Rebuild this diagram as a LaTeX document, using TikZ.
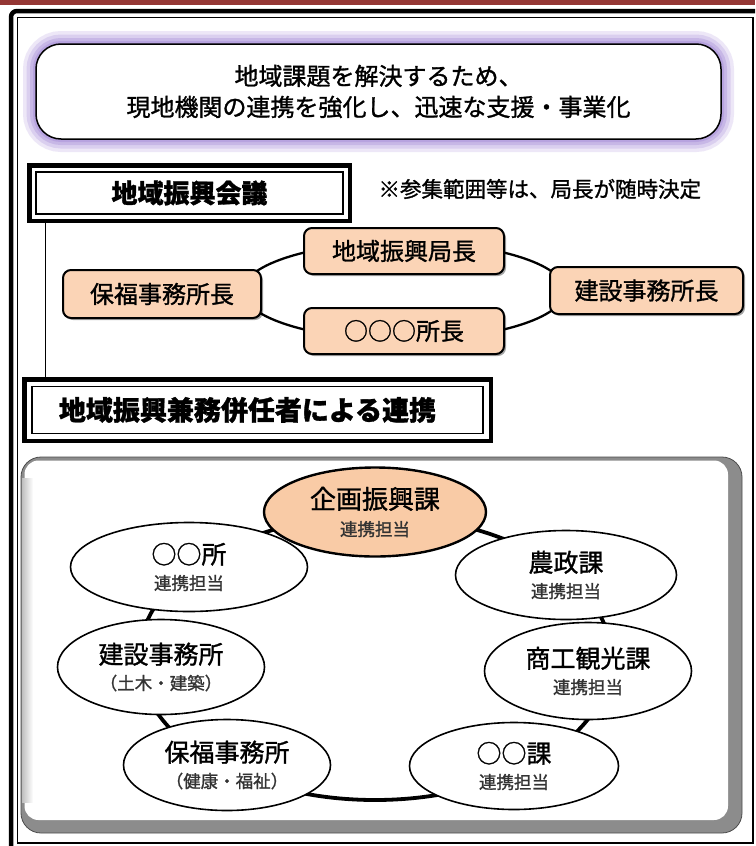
\documentclass[tikz,border=0pt]{standalone}
\usepackage{fontspec}
\setmainfont{Noto Sans CJK JP}[FakeBold=1.2]
\usetikzlibrary{shapes.geometric,shadows}
\definecolor{barred}{HTML}{943634}
\definecolor{glowc}{HTML}{A58BD8}
\definecolor{orfill}{HTML}{FBD4B6}
\definecolor{orfillb}{HTML}{F9CBA6}
\newcommand\mysubtext[1]{{\fontsize{17.5}{26}\selectfont\color{black!80}#1}}
\begin{document}
\begin{tikzpicture}[x=1pt,y=-1pt,
  frameline/.style={line width=4.5pt, rounded corners=6pt},
  titlebox/.style={draw=black, line width=1.5pt, fill=white, rounded corners=25pt,
    minimum width=685pt, minimum height=95pt, inner sep=0pt, align=center,
    font=\fontsize{24}{31}\selectfont,
    preaction={draw=glowc, line width=26pt, opacity=.2},
    preaction={draw=glowc, line width=19pt, opacity=.25},
    preaction={draw=glowc, line width=12pt, opacity=.35},
    preaction={draw=glowc, line width=6pt, opacity=.45}},
  dblbox/.style={draw=black, line width=4.5pt, fill=white, inner sep=0pt,
    font=\fontsize{26}{30}\selectfont\bfseries},
  innerline/.style={draw=black, line width=1.5pt},
  obox/.style={draw=black, line width=2pt, fill=orfill, rounded corners=8pt,
    inner sep=0pt, minimum width=200pt, minimum height=46pt,
    font=\fontsize{24}{28}\selectfont,
    drop shadow={shadow xshift=2pt, shadow yshift=-2pt, opacity=.35, fill=black}},
  ell/.style={ellipse, draw=black, line width=1.6pt, fill=white, inner sep=0pt,
    align=center, font=\fontsize{25}{26}\selectfont},
  ringline/.style={draw=black, line width=2.3pt},
  bigring/.style={draw=black, line width=3.8pt}
]
\useasboundingbox (0,0) rectangle (755,846);
\clip (0,0) rectangle (755,846);
\fill[white] (0,0) rectangle (755,846);
% top bar
\fill[barred] (0,0) rectangle (755,4.5);
% outer frame
\draw[frameline] (11,11) rectangle (800,900);
\draw[line width=1.2pt] (17.5,17.5) rectangle (753,843);

% title
\node[titlebox] (title) at (378.5,91.5) {地域課題を解決するため、\\現地機関の連携を強化し、迅速な支援・事業化};

% council header
\node[dblbox, minimum width=320.5pt, minimum height=55.5pt] (kaigi) at (189.5,193) {地域振興会議};
\draw[innerline] ([shift={(9,9)}]kaigi.north west) rectangle ([shift={(-9,-9)}]kaigi.south east);
\node[anchor=west, font=\fontsize{21.5}{24}\selectfont] (note) at (375,189) {※参集範囲等は、局長が随時決定};

% council ring
\coordinate (cring) at (404,291);
\draw[ringline] (cring) ellipse [x radius=161, y radius=49];

\node[obox, minimum width=200pt, minimum height=46pt] (kyokucho) at (404,251) {地域振興局長};
\node[obox, minimum width=200pt, minimum height=46pt] (ooosho) at (404,331) {○○○所長};
\node[obox, minimum width=198pt, minimum height=48pt] (hofuku) at (162,294) {保福事務所長};
\node[obox, minimum width=193pt, minimum height=47pt] (kensetsu) at (646.5,290.5) {建設事務所長};

% second header
\node[dblbox, minimum width=466.5pt, minimum height=61.5pt, font=\fontsize{27}{30}\selectfont\bfseries] (renkei) at (257.5,410) {地域振興兼務併任者による連携\hspace*{20pt}};
\draw[innerline] ([shift={(10,9.5)}]renkei.north west) rectangle ([shift={(-10,-9.5)}]renkei.south east);

% link line
\draw[line width=1pt] ([xshift=18pt]kaigi.south west) -- ([xshift=23pt]renkei.north west);

% big panel
\fill[black!45, rounded corners=20pt] (21,457) rectangle (742,833);
\draw[black!70, line width=.8pt, rounded corners=20pt] (21,457) rectangle (742,833);
\fill[white, rounded corners=14pt] (24.5,460.5) rectangle (728,820);
\shade[left color=black!25, right color=white] (22,478) rectangle (33,802);

% ring
\coordinate (ring) at (375,658);
\draw[bigring] (ring) ellipse [x radius=236, y radius=142];

\node[ell, fill=orfillb, line width=2.4pt, minimum width=222pt, minimum height=89pt, font=\fontsize{26}{27}\selectfont] (kikaku) at (375,512) {企画振興課\\\mysubtext{連携担当}};
\node[ell, minimum width=237pt, minimum height=89pt] (oosho) at (189,567) {○○所\\\mysubtext{連携担当}};
\node[ell, minimum width=221pt, minimum height=89pt] (nousei) at (566,575) {農政課\\\mysubtext{連携担当}};
\node[ell, minimum width=207pt, minimum height=95pt] (kensetsu2) at (161,667) {建設事務所\\\mysubtext{（土木・建築）}};
\node[ell, minimum width=207pt, minimum height=97pt] (shoko) at (588,671) {商工観光課\\\mysubtext{連携担当}};
\node[ell, minimum width=207pt, minimum height=91pt] (hofuku2) at (227,765) {保福事務所\\\mysubtext{（健康・福祉）}};
\node[ell, minimum width=209pt, minimum height=87pt] (ooka) at (514,766) {○○課\\\mysubtext{連携担当}};
\end{tikzpicture}
\end{document}
